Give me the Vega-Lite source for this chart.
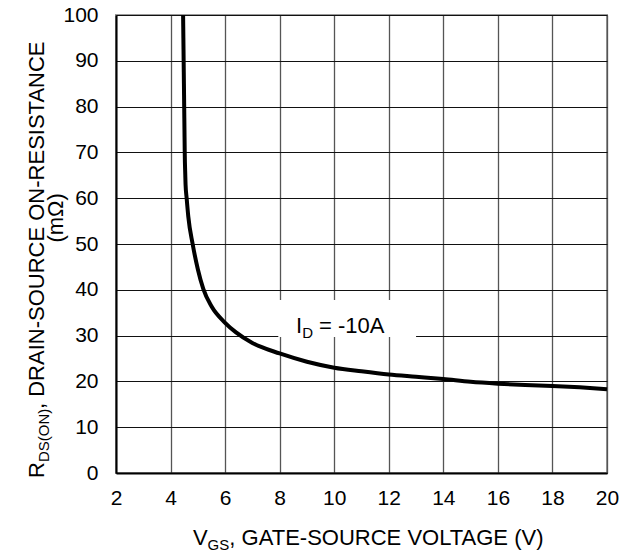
{
  "$schema": "https://vega.github.io/schema/vega-lite/v6.json",
  "width": 491,
  "height": 458,
  "autosize": {"type": "none"},
  "padding": {"left": 116, "top": 15, "right": 25, "bottom": 79},
  "config": {
    "view": {"stroke": "#999999", "strokeWidth": 2},
    "font": "Liberation Sans",
    "text": {"font": "Liberation Sans", "color": "#000000"},
    "axisX": {
      "ticks": false, "labelPadding": 14, "labelFontSize": 21, "labelColor": "#000000",
      "labelFont": "Liberation Sans", "domainColor": "#000000", "domainWidth": 2,
      "grid": true, "gridColor": "#555555", "gridWidth": 1.3, "gridOpacity": 1,
      "labelFlush": false, "labelOverlap": false
    },
    "axisY": {
      "ticks": false, "labelPadding": 18, "labelFontSize": 21, "labelColor": "#000000",
      "labelFont": "Liberation Sans", "domainColor": "#000000", "domainWidth": 2,
      "grid": true, "gridColor": "#111111", "gridWidth": 1, "gridOpacity": 1,
      "labelFlush": false, "labelOverlap": false
    }
  },
  "datasets": {
    "curve": [
      {"vgs": 4.46, "r": 100}, {"vgs": 4.47, "r": 95}, {"vgs": 4.48, "r": 90}, {"vgs": 4.49, "r": 85},
      {"vgs": 4.50, "r": 80}, {"vgs": 4.51, "r": 75}, {"vgs": 4.52, "r": 70}, {"vgs": 4.54, "r": 65},
      {"vgs": 4.55, "r": 63}, {"vgs": 4.59, "r": 60}, {"vgs": 4.65, "r": 56}, {"vgs": 4.81, "r": 50},
      {"vgs": 5.0, "r": 44.5}, {"vgs": 5.2, "r": 40.2}, {"vgs": 5.5, "r": 36.4}, {"vgs": 6.0, "r": 32.8},
      {"vgs": 6.4, "r": 30.7}, {"vgs": 7.0, "r": 28.4}, {"vgs": 8, "r": 26.1}, {"vgs": 9, "r": 24.3},
      {"vgs": 10, "r": 23.0}, {"vgs": 11, "r": 22.2}, {"vgs": 12, "r": 21.5}, {"vgs": 13, "r": 21.0},
      {"vgs": 14, "r": 20.5}, {"vgs": 15, "r": 19.9}, {"vgs": 16, "r": 19.5}, {"vgs": 17, "r": 19.2},
      {"vgs": 18, "r": 19.0}, {"vgs": 19, "r": 18.7}, {"vgs": 20, "r": 18.3}
    ],
    "box": [{"x1": 7.95, "x2": 13.0, "y1": 29.7, "y2": 37.8}],
    "one": [{}]
  },
  "layer": [
    {
      "data": {"name": "box"},
      "mark": {"type": "rect", "fill": "#ffffff"},
      "encoding": {
        "x": {
          "field": "x1", "type": "quantitative",
          "scale": {"domain": [2, 20], "nice": false, "zero": false},
          "axis": {"title": null, "values": [2, 4, 6, 8, 10, 12, 14, 16, 18, 20]}
        },
        "x2": {"field": "x2"},
        "y": {
          "field": "y1", "type": "quantitative",
          "scale": {"domain": [0, 100], "nice": false},
          "axis": {"title": null, "values": [0, 10, 20, 30, 40, 50, 60, 70, 80, 90, 100]}
        },
        "y2": {"field": "y2"}
      }
    },
    {
      "data": {"name": "curve"},
      "mark": {"type": "line", "color": "#000000", "strokeWidth": 4, "interpolate": "monotone"},
      "encoding": {
        "x": {"field": "vgs", "type": "quantitative", "axis": {"title": null}},
        "y": {"field": "r", "type": "quantitative", "axis": {"title": null}}
      }
    },
    {
      "data": {"name": "one"},
      "mark": {"type": "text", "text": "I", "fontSize": 22, "align": "left", "baseline": "alphabetic", "dx": 0},
      "encoding": {"x": {"datum": 8.6, "type": "quantitative", "axis": {"title": null}}, "y": {"datum": 30.6, "type": "quantitative", "axis": {"title": null}}}
    },
    {
      "data": {"name": "one"},
      "mark": {"type": "text", "text": "D", "fontSize": 15, "align": "left", "baseline": "alphabetic", "dx": 6.2, "dy": 5},
      "encoding": {"x": {"datum": 8.6, "type": "quantitative", "axis": {"title": null}}, "y": {"datum": 30.6, "type": "quantitative", "axis": {"title": null}}}
    },
    {
      "data": {"name": "one"},
      "mark": {"type": "text", "text": "= -10A", "fontSize": 22, "align": "left", "baseline": "alphabetic", "dx": 23},
      "encoding": {"x": {"datum": 8.6, "type": "quantitative", "axis": {"title": null}}, "y": {"datum": 30.6, "type": "quantitative", "axis": {"title": null}}}
    },
    {
      "data": {"name": "one"},
      "mark": {"type": "text", "text": "V", "fontSize": 22, "align": "left", "baseline": "alphabetic", "dx": 0},
      "encoding": {"x": {"datum": 4.82, "type": "quantitative", "axis": {"title": null}}, "y": {"datum": -15.7, "type": "quantitative", "axis": {"title": null}}}
    },
    {
      "data": {"name": "one"},
      "mark": {"type": "text", "text": "GS", "fontSize": 15, "align": "left", "baseline": "alphabetic", "dx": 14.7, "dy": 5},
      "encoding": {"x": {"datum": 4.82, "type": "quantitative", "axis": {"title": null}}, "y": {"datum": -15.7, "type": "quantitative", "axis": {"title": null}}}
    },
    {
      "data": {"name": "one"},
      "mark": {"type": "text", "text": ", GATE-SOURCE VOLTAGE (V)", "fontSize": 22, "align": "left", "baseline": "alphabetic", "dx": 36.4},
      "encoding": {"x": {"datum": 4.82, "type": "quantitative", "axis": {"title": null}}, "y": {"datum": -15.7, "type": "quantitative", "axis": {"title": null}}}
    },
    {
      "data": {"name": "one"},
      "mark": {"type": "text", "text": "R", "fontSize": 22, "align": "left", "baseline": "alphabetic", "angle": 270, "dx": 0},
      "encoding": {"x": {"datum": -0.64, "type": "quantitative", "axis": {"title": null}}, "y": {"datum": -1.09, "type": "quantitative", "axis": {"title": null}}}
    },
    {
      "data": {"name": "one"},
      "mark": {"type": "text", "text": "DS(ON)", "fontSize": 15, "align": "left", "baseline": "alphabetic", "angle": 270, "dx": 15.9, "dy": 5},
      "encoding": {"x": {"datum": -0.64, "type": "quantitative", "axis": {"title": null}}, "y": {"datum": -1.09, "type": "quantitative", "axis": {"title": null}}}
    },
    {
      "data": {"name": "one"},
      "mark": {"type": "text", "text": ", DRAIN-SOURCE ON-RESISTANCE", "fontSize": 22, "align": "left", "baseline": "alphabetic", "angle": 270, "dx": 69},
      "encoding": {"x": {"datum": -0.64, "type": "quantitative", "axis": {"title": null}}, "y": {"datum": -1.09, "type": "quantitative", "axis": {"title": null}}}
    },
    {
      "data": {"name": "one"},
      "mark": {"type": "text", "text": "(mΩ)", "fontSize": 22, "align": "center", "baseline": "alphabetic", "angle": 270},
      "encoding": {"x": {"datum": 0.06, "type": "quantitative", "axis": {"title": null}}, "y": {"datum": 55.7, "type": "quantitative", "axis": {"title": null}}}
    }
  ]
}
